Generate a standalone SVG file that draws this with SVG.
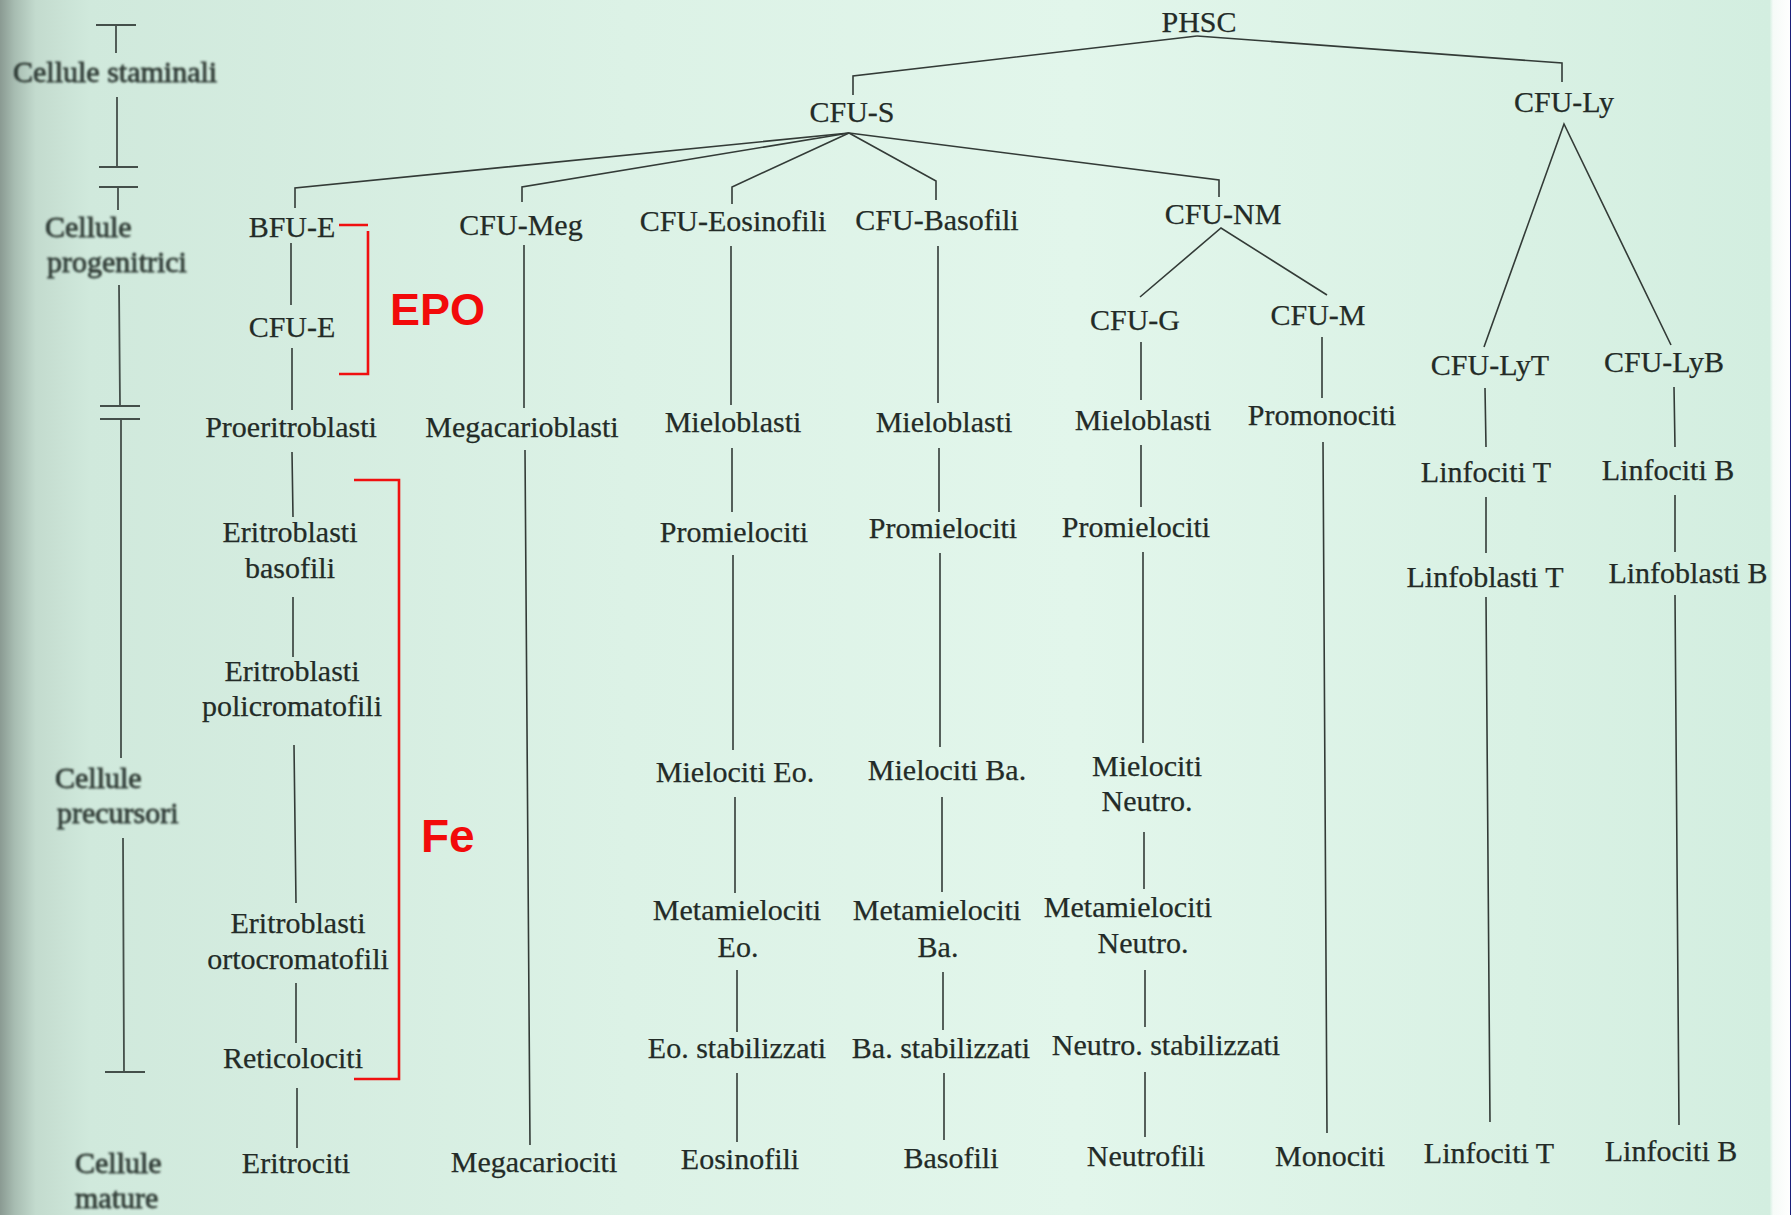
<svg xmlns="http://www.w3.org/2000/svg" width="1791" height="1215" viewBox="0 0 1791 1215">
  <defs>
    <linearGradient id="paper" x1="0" y1="0" x2="1791" y2="0" gradientUnits="userSpaceOnUse">
      <stop offset="0" stop-color="#8a9a92"/>
      <stop offset="0.008" stop-color="#a7bcb1"/>
      <stop offset="0.02" stop-color="#c3dbce"/>
      <stop offset="0.05" stop-color="#d0e9dc"/>
      <stop offset="0.35" stop-color="#dcf2e6"/>
      <stop offset="0.6" stop-color="#e2f6eb"/>
      <stop offset="0.85" stop-color="#d9f1e4"/>
      <stop offset="0.988" stop-color="#d3eee0"/>
      <stop offset="0.99" stop-color="#f6fbf8"/>
      <stop offset="1" stop-color="#ffffff"/>
    </linearGradient>
    <filter id="soft" x="-5%" y="-20%" width="110%" height="140%">
      <feGaussianBlur stdDeviation="1"/>
    </filter>
  </defs>
  <style>
    .lbl { font-family: "Liberation Serif", "Times New Roman", serif; font-size: 30px; fill: #232b27; stroke: #232b27; stroke-width: 0.25; text-anchor: middle; }
    .side { font-family: "Liberation Serif", "Times New Roman", serif; font-size: 30px; fill: #2f3b35; stroke: #2f3b35; stroke-width: 0.8; }
    .link { fill: none; stroke: #333b37; stroke-width: 1.6; stroke-linejoin: miter; }
    .tick { fill: none; stroke: #444f4a; stroke-width: 1.8; }
    .mark { fill: none; stroke: #f01010; stroke-width: 2.6; }
    .note { font-family: "Liberation Sans", Arial, sans-serif; font-weight: bold; fill: #f20a0a; }
  </style>

  <!-- paper -->
  <rect x="0" y="0" width="1791" height="1215" fill="url(#paper)"/>
  <line x1="1790.5" y1="0" x2="1790.5" y2="1215" stroke="#1b1f7a" stroke-width="1"/>

  <!-- stage scale on the left -->
  <g id="scale">
    <g class="tick">
      <path d="M96 25H136M116 25V53"/>
      <path d="M117 97V167M99 167H138"/>
      <path d="M99 187H138M118 187V210"/>
      <path d="M119 285L120 406M100 406H140"/>
      <path d="M100 419H140M121 419V758"/>
      <path d="M123 838L124 1072M105 1072H145"/>
    </g>
    <g filter="url(#soft)">
      <text class="side" x="13" y="82">Cellule staminali</text>
      <text class="side" x="45" y="237">Cellule</text>
      <text class="side" x="47" y="272">progenitrici</text>
      <text class="side" x="55" y="788">Cellule</text>
      <text class="side" x="57" y="823">precursori</text>
      <text class="side" x="75" y="1173">Cellule</text>
      <text class="side" x="75" y="1208">mature</text>
    </g>
  </g>

  <!-- connectors -->
  <g id="connectors" class="link">
    <!-- PHSC -->
    <polyline points="1197,36 853,76 853,95"/>
    <polyline points="1197,36 1562,63 1562,82"/>
    <!-- CFU-S -->
    <polyline points="849,133 295,188 295,208"/>
    <polyline points="849,133 522,187 522,202"/>
    <polyline points="849,133 732,187 732,204"/>
    <polyline points="849,133 936,181 936,200"/>
    <polyline points="849,133 1219,180 1219,197"/>
    <!-- CFU-NM -->
    <polyline points="1140,297 1221,228 1327,295"/>
    <!-- CFU-Ly -->
    <polyline points="1484,347 1564,124 1671,345"/>
    <!-- erythroid line -->
    <path d="M291 243V305M292 348V410M292 452L293 517M293 597V657M294 745L296 903M296 983V1043M297 1088V1148"/>
    <!-- megakaryocyte line -->
    <path d="M524 245V408M525 450L530 1145"/>
    <!-- eosinophil line -->
    <path d="M731 246V405M732 448V512M733 555V750M735 797V893M737 970V1032M737 1073V1142"/>
    <!-- basophil line -->
    <path d="M938 246V403M939 448V512M940 553V747M942 797V892M943 972V1030M944 1073V1140"/>
    <!-- neutrophil line -->
    <path d="M1141 342V400M1141 445V507M1143 552V743M1144 832V889M1145 970V1027M1145 1072V1137"/>
    <!-- monocyte line -->
    <path d="M1322 337V398M1323 442L1327 1133"/>
    <!-- T lymphocyte line -->
    <path d="M1485 388L1486 447M1486 497V553M1486 597L1490 1122"/>
    <!-- B lymphocyte line -->
    <path d="M1674 387L1675 447M1675 495V552M1675 595L1679 1125"/>
  </g>

  <!-- stem and progenitor cells -->
  <g id="phsc"><text class="lbl" x="1199" y="32">PHSC</text></g>
  <g id="cfu-s"><text class="lbl" x="852" y="122">CFU-S</text></g>
  <g id="cfu-ly"><text class="lbl" x="1564" y="112">CFU-Ly</text></g>
  <g id="bfu-e"><text class="lbl" x="292" y="237">BFU-E</text></g>
  <g id="cfu-meg"><text class="lbl" x="521" y="235">CFU-Meg</text></g>
  <g id="cfu-eos"><text class="lbl" x="733" y="231">CFU-Eosinofili</text></g>
  <g id="cfu-baso"><text class="lbl" x="937" y="230">CFU-Basofili</text></g>
  <g id="cfu-nm"><text class="lbl" x="1223" y="224">CFU-NM</text></g>
  <g id="cfu-e"><text class="lbl" x="292" y="337">CFU-E</text></g>
  <g id="cfu-g"><text class="lbl" x="1135" y="330">CFU-G</text></g>
  <g id="cfu-m"><text class="lbl" x="1318" y="325">CFU-M</text></g>
  <g id="cfu-lyt"><text class="lbl" x="1490" y="375">CFU-LyT</text></g>
  <g id="cfu-lyb"><text class="lbl" x="1664" y="372">CFU-LyB</text></g>

  <!-- precursors -->
  <g id="proeritroblasti"><text class="lbl" x="291" y="437">Proeritroblasti</text></g>
  <g id="megacarioblasti"><text class="lbl" x="522" y="437">Megacarioblasti</text></g>
  <g id="mieloblasti-eo"><text class="lbl" x="733" y="432">Mieloblasti</text></g>
  <g id="mieloblasti-ba"><text class="lbl" x="944" y="432">Mieloblasti</text></g>
  <g id="mieloblasti-ne"><text class="lbl" x="1143" y="430">Mieloblasti</text></g>
  <g id="promonociti"><text class="lbl" x="1322" y="425">Promonociti</text></g>
  <g id="linfociti-t-1"><text class="lbl" x="1486" y="482">Linfociti T</text></g>
  <g id="linfociti-b-1"><text class="lbl" x="1668" y="480">Linfociti B</text></g>

  <g id="eritroblasti-basofili">
    <text class="lbl" x="290" y="542">Eritroblasti</text>
    <text class="lbl" x="290" y="578">basofili</text>
  </g>
  <g id="promielociti-eo"><text class="lbl" x="734" y="542">Promielociti</text></g>
  <g id="promielociti-ba"><text class="lbl" x="943" y="538">Promielociti</text></g>
  <g id="promielociti-ne"><text class="lbl" x="1136" y="537">Promielociti</text></g>
  <g id="linfoblasti-t"><text class="lbl" x="1485" y="587">Linfoblasti T</text></g>
  <g id="linfoblasti-b"><text class="lbl" x="1688" y="583">Linfoblasti B</text></g>

  <g id="eritroblasti-policromatofili">
    <text class="lbl" x="292" y="681">Eritroblasti</text>
    <text class="lbl" x="292" y="716">policromatofili</text>
  </g>
  <g id="mielociti-eo"><text class="lbl" x="735" y="782">Mielociti Eo.</text></g>
  <g id="mielociti-ba"><text class="lbl" x="947" y="780">Mielociti Ba.</text></g>
  <g id="mielociti-ne">
    <text class="lbl" x="1147" y="776">Mielociti</text>
    <text class="lbl" x="1147" y="811">Neutro.</text>
  </g>

  <g id="eritroblasti-ortocromatofili">
    <text class="lbl" x="298" y="933">Eritroblasti</text>
    <text class="lbl" x="298" y="969">ortocromatofili</text>
  </g>
  <g id="metamielociti-eo">
    <text class="lbl" x="737" y="920">Metamielociti</text>
    <text class="lbl" x="738" y="957">Eo.</text>
  </g>
  <g id="metamielociti-ba">
    <text class="lbl" x="937" y="920">Metamielociti</text>
    <text class="lbl" x="938" y="957">Ba.</text>
  </g>
  <g id="metamielociti-ne">
    <text class="lbl" x="1128" y="917">Metamielociti</text>
    <text class="lbl" x="1143" y="953">Neutro.</text>
  </g>

  <g id="reticolociti"><text class="lbl" x="293" y="1068">Reticolociti</text></g>
  <g id="eo-stabilizzati"><text class="lbl" x="737" y="1058">Eo. stabilizzati</text></g>
  <g id="ba-stabilizzati"><text class="lbl" x="941" y="1058">Ba. stabilizzati</text></g>
  <g id="neutro-stabilizzati"><text class="lbl" x="1166" y="1055">Neutro. stabilizzati</text></g>

  <!-- mature cells -->
  <g id="eritrociti"><text class="lbl" x="296" y="1173">Eritrociti</text></g>
  <g id="megacariociti"><text class="lbl" x="534" y="1172">Megacariociti</text></g>
  <g id="eosinofili"><text class="lbl" x="740" y="1169">Eosinofili</text></g>
  <g id="basofili"><text class="lbl" x="951" y="1168">Basofili</text></g>
  <g id="neutrofili"><text class="lbl" x="1146" y="1166">Neutrofili</text></g>
  <g id="monociti"><text class="lbl" x="1330" y="1166">Monociti</text></g>
  <g id="linfociti-t-2"><text class="lbl" x="1489" y="1163">Linfociti T</text></g>
  <g id="linfociti-b-2"><text class="lbl" x="1671" y="1161">Linfociti B</text></g>

  <!-- red annotations on the erythroid line -->
  <g id="epo">
    <path class="mark" d="M339 225H368M368 231V374H339"/>
    <text class="note" x="390" y="325" font-size="45">EPO</text>
  </g>
  <g id="fe">
    <path class="mark" d="M354 480H399V1079H354"/>
    <text class="note" x="421" y="852" font-size="46">Fe</text>
  </g>
</svg>
